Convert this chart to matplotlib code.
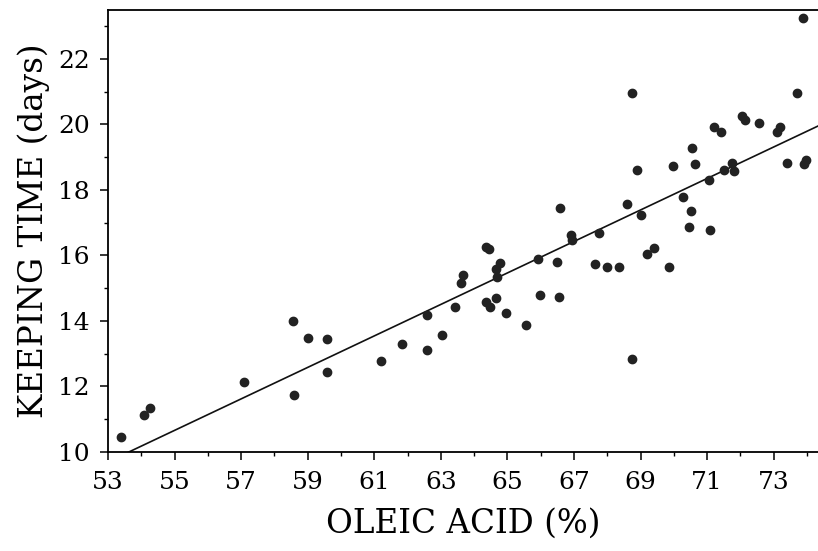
import matplotlib
matplotlib.use("Agg")
import matplotlib.pyplot as plt
from matplotlib.ticker import MultipleLocator

plt.rcParams['font.family'] = ['DejaVu Serif']

# oleic acid (%) and keeping time (days)
oleic = [53.4, 54.09, 54.25, 57.08, 58.56, 58.59, 59.0, 59.59, 59.57,
         61.21, 61.84, 62.57, 62.57, 63.04, 63.43, 63.60, 63.68,
         64.35, 64.45, 64.36, 64.47, 64.65, 64.67, 64.79, 64.70, 64.95,
         65.56, 65.93, 65.97, 66.48, 66.55, 66.92, 66.95, 66.58,
         67.75, 67.64, 68.0, 68.34, 68.59, 68.75, 68.75, 68.88, 69.0,
         69.20, 69.40, 69.86, 69.98, 70.27, 70.46, 70.51, 70.53, 70.62,
         71.05, 71.08, 71.21, 71.41, 71.52, 71.76, 71.80, 72.06, 72.15,
         72.55, 73.10, 73.18, 73.40, 73.70, 73.88, 73.92, 73.98]
keeping = [10.44, 11.13, 11.33, 12.13, 13.99, 11.74, 13.49, 13.45, 12.43,
           12.76, 13.30, 13.10, 14.17, 13.56, 14.42, 15.15, 15.40,
           16.27, 16.19, 14.59, 14.42, 14.69, 15.60, 15.76, 15.35, 14.23,
           13.88, 15.90, 14.79, 15.80, 14.72, 16.62, 16.47, 17.46,
           16.69, 15.74, 15.64, 15.64, 17.57, 12.85, 20.97, 18.62, 17.23,
           16.03, 16.24, 15.65, 18.72, 17.77, 16.87, 17.37, 19.28, 18.78,
           18.31, 16.79, 19.91, 19.78, 18.62, 18.82, 18.58, 20.25, 20.15,
           20.04, 19.76, 19.93, 18.82, 20.97, 23.26, 18.80, 18.92]

# fitted regression line
fit_slope = 0.481
fit_intercept = -15.80
fit_x = [53.0, 74.4]

fig = plt.figure(figsize=(8.18, 5.51), dpi=100)
ax = fig.add_axes([0.132, 0.18, 0.868, 0.802])

ax.plot(fit_x, [fit_slope * x + fit_intercept for x in fit_x],
        color='#111111', lw=1.2)
ax.plot(oleic, keeping, 'o', color='#222222', ms=6, mec='#222222')

ax.set_xlim(53, 74.33)
ax.set_ylim(10, 23.5)
ax.xaxis.set_major_locator(MultipleLocator(2, offset=1))
ax.xaxis.set_minor_locator(MultipleLocator(1))
ax.yaxis.set_major_locator(MultipleLocator(2))
ax.yaxis.set_minor_locator(MultipleLocator(1))
ax.tick_params(which='major', length=6, width=1.1, labelsize=18, direction='out')
ax.tick_params(which='minor', length=3, width=1.0, direction='out')
ax.tick_params(axis='x', pad=8)
ax.tick_params(axis='y', pad=7)
ax.spines['right'].set_visible(False)
for s in ['left', 'bottom', 'top']:
    ax.spines[s].set_linewidth(1.3)

ax.set_xlabel('OLEIC ACID (%)', fontsize=23.5, labelpad=10)
ax.set_ylabel('KEEPING TIME (days)', fontsize=23.5, labelpad=6)

fig.savefig('out.png', dpi=100, facecolor='white')
